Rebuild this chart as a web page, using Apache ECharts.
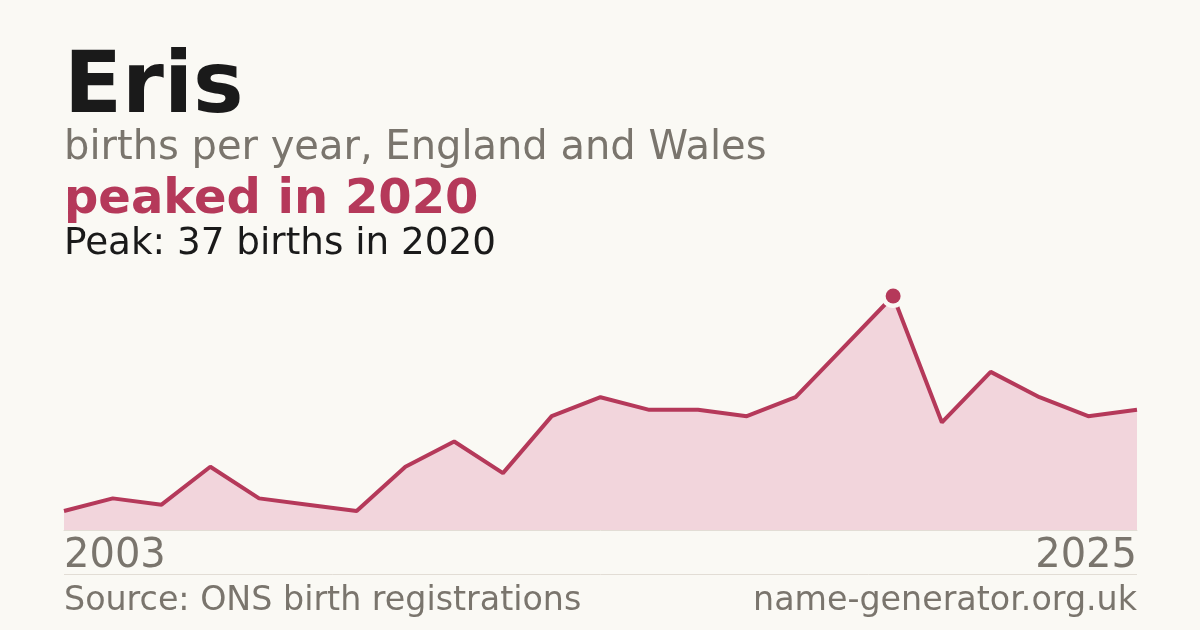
<!DOCTYPE html>
<html>
<head>
<meta charset="utf-8">
<script src="https://cdn.jsdelivr.net/npm/echarts@6/dist/echarts.min.js"></script>
<style>
  html, body { margin: 0; padding: 0; background: #faf9f4; }
  #chart { width: 1200px; height: 630px; }
</style>
</head>
<body>
<div id="chart"></div>
<script>
// births per year for Eris, England and Wales
var years = ['2003','2004','2005','2006','2007','2008','2009','2010','2011','2012','2013',
             '2014','2015','2016','2017','2018','2019','2020','2021','2022','2023','2024','2025'];
var births = [3, 5, 4, 10, 5, 4, 3, 10, 14, 9, 18, 21, 19, 19, 18, 21, 29, 37, 17, 25, 21, 18, 19];

var RED = '#b5395a';
var GREY = '#7a756d';
var BG = '#faf9f4';
var FONT = '"DejaVu Sans", sans-serif';

var peakVal = Math.max.apply(null, births);
var peakIdx = births.indexOf(peakVal);
var last = years.length - 1;

var chart = echarts.init(document.getElementById('chart'));
chart.setOption({
  backgroundColor: BG,
  animation: false,
  grid: { left: 64, right: 63, top: 296, bottom: 100 },
  xAxis: {
    type: 'category',
    data: years,
    boundaryGap: false,
    axisLine: { show: true, lineStyle: { color: '#e2ddd5', width: 1 } },
    axisTick: { show: false },
    splitLine: { show: false },
    axisLabel: {
      interval: function (i) { return i === 0 || i === last; },
      alignMinLabel: 'left',
      alignMaxLabel: 'right',
      color: GREY,
      fontFamily: FONT,
      fontSize: 40,
      margin: 7
    }
  },
  yAxis: {
    type: 'value',
    min: 0,
    max: peakVal,
    show: false,
    splitLine: { show: false }
  },
  series: [{
    type: 'line',
    data: births,
    symbol: 'none',
    lineStyle: { color: RED, width: 4 },
    areaStyle: { color: '#f2d5dc', opacity: 1 },
    z: 2
  }, {
    // halo behind the peak marker
    type: 'scatter',
    data: [[peakIdx, peakVal]],
    symbol: 'circle',
    symbolSize: 24,
    itemStyle: { color: BG, opacity: 1 },
    silent: true,
    z: 4
  }, {
    // peak marker
    type: 'scatter',
    data: [[peakIdx, peakVal]],
    symbol: 'circle',
    symbolSize: 15,
    itemStyle: { color: RED, opacity: 1 },
    silent: true,
    z: 5
  }],
  graphic: [
    { type: 'text', left: 64, top: 47, style: { text: 'Eris', fill: '#1a1a1a', font: 'bold 85px ' + FONT } },
    { type: 'text', left: 64, top: 129, style: { text: 'births per year, England and Wales', fill: GREY, font: '40px ' + FONT } },
    { type: 'text', left: 64, top: 177, style: { text: 'peaked in ' + years[peakIdx], fill: RED, font: 'bold 48px ' + FONT } },
    { type: 'text', left: 64, top: 226, style: { text: 'Peak: ' + peakVal + ' births in ' + years[peakIdx], fill: '#1a1a1a', font: '37.3px ' + FONT } },
    { type: 'line', shape: { x1: 64, y1: 574.5, x2: 1137, y2: 574.5 }, style: { stroke: '#e2ddd5', lineWidth: 1 } },
    { type: 'text', left: 64, top: 585, style: { text: 'Source: ONS birth registrations', fill: GREY, font: '33.3px ' + FONT } },
    { type: 'text', right: 63, top: 585, style: { text: 'name-generator.org.uk', fill: GREY, font: '33.3px ' + FONT } }
  ]
});
</script>
</body>
</html>
